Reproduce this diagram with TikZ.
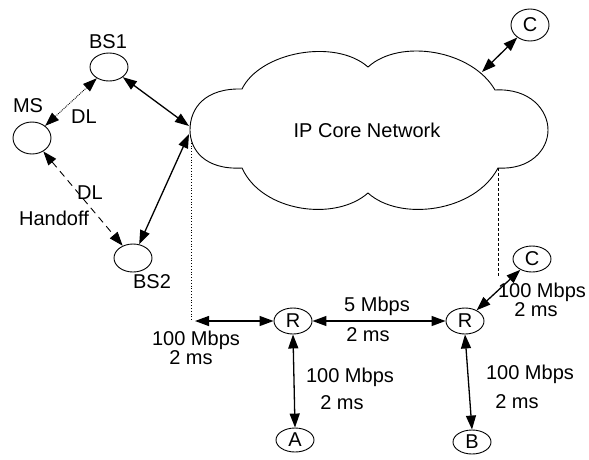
\documentclass[tikz,border=0pt]{standalone}
\usepackage{fontspec}
\setmainfont{Liberation Sans}
\usetikzlibrary{arrows.meta,shapes.geometric}
\begin{document}
\begin{tikzpicture}[x=1pt,y=-1pt,
  every node/.style={font=\fontsize{20}{22}\selectfont},
  ell/.style={draw,ellipse,line width=0.9pt,inner sep=0pt,minimum width=38pt,minimum height=28pt},
  lbl/.style={inner sep=0pt},
  link/.style={line width=1.3pt,{Triangle[length=14pt,width=10pt]}-{Triangle[length=14pt,width=10pt]}},
  guide/.style={line width=0.8pt,dotted},
]
\useasboundingbox (0,0) rectangle (589,459);
% cloud
\draw[line width=0.9pt] (242,168) .. controls (205,170) and (190,150) .. (190,130)
  .. controls (190,108) and (205,88) .. (242,89)
  .. controls (260,52) and (335,38) .. (368,67)
  .. controls (400,38) and (472,50) .. (495,90)
  .. controls (530,88) and (548,110) .. (548,130)
  .. controls (548,150) and (530,170) .. (498,168)
  .. controls (475,212) and (400,222) .. (368,193)
  .. controls (335,222) and (262,212) .. (242,168) -- cycle;
\node[lbl] (ipcn) at (367,130) {IP Core Network};
\coordinate (cl1) at (189,126);
\coordinate (cl2) at (189,134);
\coordinate (ctop) at (482,72);
% mobile side
\node[ell] (bs1) at (109,67) {};
\node[lbl] (bs1l) at (108,42) {BS1};
\node[ell,minimum height=32pt] (ms) at (32,138) {};
\node[lbl] (msl) at (28,106) {MS};
\node[ell] (bs2) at (133,258) {};
\node[lbl] (bs2l) at (152,282) {BS2};
\draw[link] (bs1) -- (cl1);
\draw[link] (bs2) -- (cl2);
\draw[link,line width=0.9pt,densely dotted] (ms) -- (bs1);
\node[lbl] (dl1) at (84,117) {DL};
\draw[link,line width=0.9pt,dash pattern=on 7pt off 5pt] (ms) -- (bs2);
\node[lbl] (dl2) at (90,193) {DL};
\node[lbl] (hand) at (54,218) {Handoff};
% top C
\node[ell,minimum height=32pt] (ctopn) at (530,25) {C};
\draw[link] (ctopn) -- (ctop);
% routers
\node[ell,minimum height=26pt] (r1) at (293,321) {R};
\node[ell,minimum height=26pt] (r2) at (465,321) {R};
\node[ell,minimum height=24pt] (a) at (295,440) {A};
\node[ell,minimum height=24pt] (b) at (472,442) {B};
\node[ell,minimum height=26pt] (c2) at (532,259) {C};
\coordinate (dtop) at (191,140);
\coordinate (dbot) at (191,321);
\coordinate (dstart) at (195,321);
\coordinate (rtop) at (498,168);
\coordinate (rbot) at (498,277);
\draw[guide] (dtop) -- (dbot);
\draw[line width=0.8pt,densely dashed] (rtop) -- (rbot);
\draw[link] (dstart) -- (r1);
\draw[link] (r1) -- (r2);
\draw[link] (r1.south) -- (a.north);
\draw[link] (r2.south) -- (b.north);
\draw[link] (c2) -- (r2);
\node[lbl] (l1a) at (196,340) {100 Mbps};
\node[lbl] (l1b) at (191,358) {2 ms};
\node[lbl] (l2a) at (377,306) {5 Mbps};
\node[lbl] (l2b) at (368,335) {2 ms};
\node[lbl] (l3a) at (350,377) {100 Mbps};
\node[lbl] (l3b) at (342,403) {2 ms};
\node[lbl] (l4a) at (530,374) {100 Mbps};
\node[lbl] (l4b) at (517,402) {2 ms};
\node[lbl] (l5a) at (542,292) {100 Mbps};
\node[lbl] (l5b) at (536,310) {2 ms};
\end{tikzpicture}
\end{document}
